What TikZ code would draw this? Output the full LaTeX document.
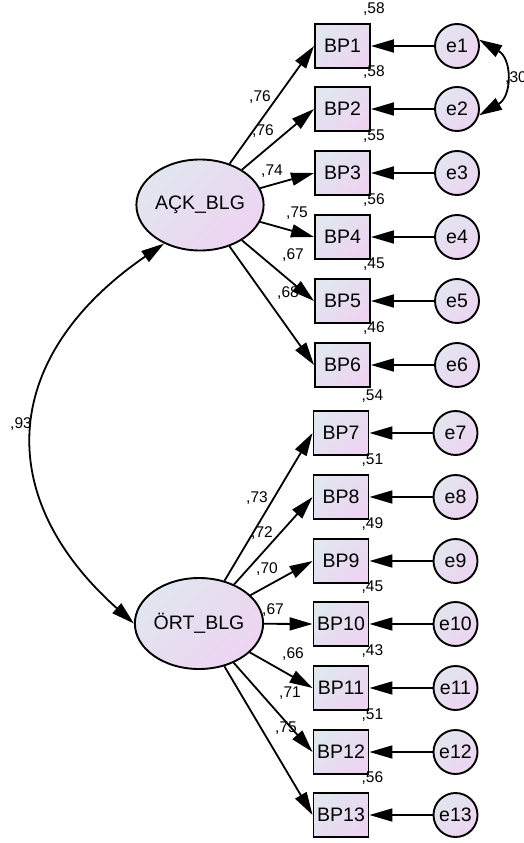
\documentclass[tikz,border=0pt]{standalone}
\usepackage{fontspec}
\setmainfont{Liberation Sans}
\usetikzlibrary{shapes.geometric,arrows.meta}

\definecolor{fillA}{HTML}{E1E6EF}
\definecolor{fillB}{HTML}{EDD4F1}

\begin{document}
\begin{tikzpicture}[
    x=1pt, y=1pt,
    latent/.style={ellipse, draw, line width=1.9pt, minimum width=112pt, minimum height=91pt, inner sep=0pt,
                   top color=fillA, bottom color=fillB, shading angle=45, font=\fontsize{19.5}{22}\selectfont},
    indicator/.style={rectangle, draw, line width=1.9pt, minimum width=55pt, minimum height=44pt, inner sep=0pt,
                   top color=fillA, bottom color=fillB, shading angle=45, font=\fontsize{19.5}{22}\selectfont},
    errvar/.style={circle, draw, line width=1.9pt, minimum size=44pt, inner sep=0pt,
                   top color=fillA, bottom color=fillB, shading angle=45, font=\fontsize{19.5}{22}\selectfont},
    loading/.style={-{Triangle[length=23pt,width=13pt]}, line width=1.8pt},
    covar/.style={{Triangle[length=23pt,width=13pt]}-{Triangle[length=23pt,width=13pt]}, line width=1.8pt},
    coef/.style={inner sep=0pt, font=\fontsize{15.5}{18}\selectfont}
]
    \useasboundingbox (0,0) rectangle (523,-843);

    % Latent factors
    \node[latent] (ack) at (200,-205) {AÇK\_BLG};
    \node[latent] (ort) at (199,-623.5) {ÖRT\_BLG};

    % Observed items, first factor
    \node[indicator] (bp1) at (342.5,-46) {BP1};
    \node[indicator] (bp2) at (342.5,-109) {BP2};
    \node[indicator] (bp3) at (342.5,-173) {BP3};
    \node[indicator] (bp4) at (342.5,-237) {BP4};
    \node[indicator] (bp5) at (342.5,-301) {BP5};
    \node[indicator] (bp6) at (342.5,-365) {BP6};

    % Observed items, second factor
    \node[indicator] (bp7) at (341,-433) {BP7};
    \node[indicator] (bp8) at (341,-497) {BP8};
    \node[indicator] (bp9) at (341,-561) {BP9};
    \node[indicator] (bp10) at (341,-624) {BP10};
    \node[indicator] (bp11) at (341,-688) {BP11};
    \node[indicator] (bp12) at (341,-752) {BP12};
    \node[indicator] (bp13) at (341,-815) {BP13};

    % Error terms
    \node[errvar] (e1) at (457,-46) {e1};
    \node[errvar] (e2) at (457,-109) {e2};
    \node[errvar] (e3) at (457,-173) {e3};
    \node[errvar] (e4) at (457,-237) {e4};
    \node[errvar] (e5) at (457,-301) {e5};
    \node[errvar] (e6) at (457,-365) {e6};
    \node[errvar] (e7) at (455.5,-433) {e7};
    \node[errvar] (e8) at (455.5,-497) {e8};
    \node[errvar] (e9) at (455.5,-561) {e9};
    \node[errvar] (e10) at (455.5,-624) {e10};
    \node[errvar] (e11) at (455.5,-688) {e11};
    \node[errvar] (e12) at (455.5,-752) {e12};
    \node[errvar] (e13) at (455.5,-815) {e13};

    % Factor loadings
    \draw[loading] (ack) -- (bp1.west);
    \draw[loading] (ack) -- (bp2.west);
    \draw[loading] (ack) -- (bp3.west);
    \draw[loading] (ack) -- (bp4.west);
    \draw[loading] (ack) -- (bp5.west);
    \draw[loading] (ack) -- (bp6.west);
    \draw[loading] (ort) -- (bp7.west);
    \draw[loading] (ort) -- (bp8.west);
    \draw[loading] (ort) -- (bp9.west);
    \draw[loading] (ort) -- (bp10.west);
    \draw[loading] (ort) -- (bp11.west);
    \draw[loading] (ort) -- (bp12.west);
    \draw[loading] (ort) -- (bp13.west);

    % Error paths
    \draw[loading] (e1) -- (bp1);
    \draw[loading] (e2) -- (bp2);
    \draw[loading] (e3) -- (bp3);
    \draw[loading] (e4) -- (bp4);
    \draw[loading] (e5) -- (bp5);
    \draw[loading] (e6) -- (bp6);
    \draw[loading] (e7) -- (bp7);
    \draw[loading] (e8) -- (bp8);
    \draw[loading] (e9) -- (bp9);
    \draw[loading] (e10) -- (bp10);
    \draw[loading] (e11) -- (bp11);
    \draw[loading] (e12) -- (bp12);
    \draw[loading] (e13) -- (bp13);

    % Covariances
    \draw[covar] (ack.227) .. controls (2,-355) and (-10,-495) .. (ort.west);
    \draw[covar] (e1.16) to[out=-30, in=30, looseness=1.3] (e2.-16);
    \node[coef] (c93) at (21,-424) {,93};
    \node[coef, anchor=west] (c30) at (505,-78) {,30};

    % Loading estimates
    \node[coef] (l1) at (260,-97) {,76};
    \node[coef] (l2) at (263,-131) {,76};
    \node[coef] (l3) at (272,-171) {,74};
    \node[coef] (l4) at (297,-213) {,75};
    \node[coef] (l5) at (293,-255) {,67};
    \node[coef] (l6) at (288,-293) {,68};
    \node[coef] (l7) at (257,-498) {,73};
    \node[coef] (l8) at (262,-533) {,72};
    \node[coef] (l9) at (267,-569) {,70};
    \node[coef] (l10) at (273,-610) {,67};
    \node[coef] (l11) at (293,-654) {,66};
    \node[coef] (l12) at (290,-693) {,71};
    \node[coef] (l13) at (286,-728) {,75};

    % Squared multiple correlations
    \node[coef] (r1) at ([shift={(3,14)}]bp1.north east) {,58};
    \node[coef] (r2) at ([shift={(3,14)}]bp2.north east) {,58};
    \node[coef] (r3) at ([shift={(3,14)}]bp3.north east) {,55};
    \node[coef] (r4) at ([shift={(3,14)}]bp4.north east) {,56};
    \node[coef] (r5) at ([shift={(3,14)}]bp5.north east) {,45};
    \node[coef] (r6) at ([shift={(3,14)}]bp6.north east) {,46};
    \node[coef] (r7) at ([shift={(3,14)}]bp7.north east) {,54};
    \node[coef] (r8) at ([shift={(3,14)}]bp8.north east) {,51};
    \node[coef] (r9) at ([shift={(3,14)}]bp9.north east) {,49};
    \node[coef] (r10) at ([shift={(3,14)}]bp10.north east) {,45};
    \node[coef] (r11) at ([shift={(3,14)}]bp11.north east) {,43};
    \node[coef] (r12) at ([shift={(3,14)}]bp12.north east) {,51};
    \node[coef] (r13) at ([shift={(3,14)}]bp13.north east) {,56};
\end{tikzpicture}
\end{document}
